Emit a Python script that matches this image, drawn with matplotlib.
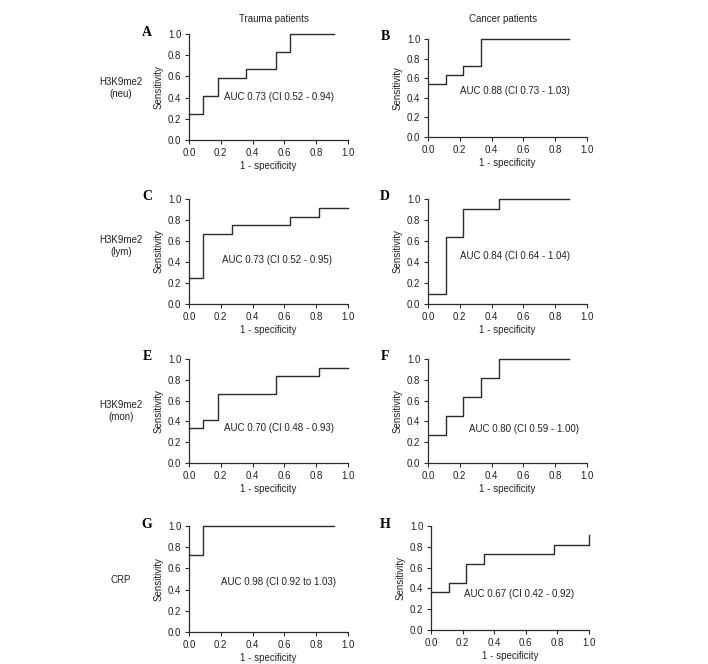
import matplotlib.pyplot as plt

plt.rcParams['font.family'] = ['Liberation Sans', 'DejaVu Sans']

W, H = 708, 664

# ROC step curves: false positive rate (1 - specificity) and sensitivity
a_x = [0.0, 0.09, 0.18, 0.36, 0.545, 0.636, 0.91]
a_y = [0.25, 0.417, 0.583, 0.667, 0.833, 1.0, 1.0]
b_x = [0.0, 0.111, 0.222, 0.333, 0.889]
b_y = [0.545, 0.636, 0.727, 1.0, 1.0]
c_x = [0.0, 0.09, 0.273, 0.636, 0.818, 1.0]
c_y = [0.25, 0.667, 0.75, 0.833, 0.917, 0.917]
d_x = [0.0, 0.111, 0.222, 0.444, 0.889]
d_y = [0.091, 0.636, 0.909, 1.0, 1.0]
e_x = [0.0, 0.09, 0.18, 0.545, 0.818, 1.0]
e_y = [0.333, 0.417, 0.667, 0.833, 0.917, 0.917]
f_x = [0.0, 0.111, 0.222, 0.333, 0.444, 0.889]
f_y = [0.273, 0.455, 0.636, 0.818, 1.0, 1.0]
g_x = [0.0, 0.09, 0.91]
g_y = [0.727, 1.0, 1.0]
h_x = [0.0, 0.111, 0.222, 0.333, 0.778, 1.0]
h_y = [0.364, 0.455, 0.636, 0.727, 0.818, 0.909]

auc_labels = ['AUC 0.73 (CI 0.52 - 0.94)', 'AUC 0.88 (CI 0.73 - 1.03)',
              'AUC 0.73 (CI 0.52 - 0.95)', 'AUC 0.84 (CI 0.64 - 1.04)',
              'AUC 0.70 (CI 0.48 - 0.93)', 'AUC 0.80 (CI 0.59 - 1.00)',
              'AUC 0.98 (CI 0.92 to 1.03)', 'AUC 0.67 (CI 0.42 - 0.92)']
letters = ['A', 'B', 'C', 'D', 'E', 'F', 'G', 'H']
row_labels = ['H3K9me2\n(neu)', 'H3K9me2\n(lym)', 'H3K9me2\n(mon)', 'CRP']
col_titles = ['Trauma patients', 'Cancer patients']
ticks = [0.0, 0.2, 0.4, 0.6, 0.8, 1.0]

curves = [(a_x, a_y), (b_x, b_y), (c_x, c_y), (d_x, d_y),
          (e_x, e_y), (f_x, f_y), (g_x, g_y), (h_x, h_y)]

# axes boxes in pixels: left, right, top, bottom
boxes = [(189, 348, 34, 140), (428, 587, 39, 137),
         (189, 348, 199, 304), (428, 587, 199, 304),
         (189, 348, 359, 463), (428, 587, 359, 463),
         (189, 348, 526, 632), (431, 589, 526, 630)]
# AUC text position in data coords
text_pos = [(0.22, 0.41), (0.20, 0.47), (0.21, 0.42), (0.20, 0.46),
            (0.22, 0.34), (0.26, 0.33), (0.20, 0.47), (0.21, 0.35)]
row_label_y = [88, 246, 411, 580]

col = '#2b2b2b'
txt = '#222222'
fs = 7
fig = plt.figure(figsize=(W / 100, H / 100), dpi=100)

for i, ((xs, ys), (l, r, t, b)) in enumerate(zip(curves, boxes)):
    ax = fig.add_axes([l / W, 1 - b / H, (r - l) / W, (b - t) / H])
    ax.step(xs, ys, where='post', color=col, lw=1.0, clip_on=False)
    ax.set_xlim(0, 1)
    ax.set_ylim(0, 1)
    ax.set_xticks(ticks)
    ax.set_yticks(ticks)
    ax.set_xticklabels([f'{v:.1f}' for v in ticks])
    ax.set_yticklabels([f'{v:.1f}' for v in ticks])
    for s in ['top', 'right']:
        ax.spines[s].set_visible(False)
    for s in ['left', 'bottom']:
        ax.spines[s].set_color(col)
        ax.spines[s].set_linewidth(0.9)
    ax.tick_params(direction='out', length=3, width=0.8, color=col,
                   labelsize=fs, pad=2.5, labelcolor=txt)
    ax.set_xlabel('1 - specificity', fontsize=fs, labelpad=2.5, color=txt)
    ax.set_ylabel('Sensitivity', fontsize=fs, labelpad=3, color=txt)
    tx, ty = text_pos[i]
    ax.text(tx, ty, auc_labels[i], fontsize=fs, va='center', ha='left',
            color=txt)
    fig.text((147 if i % 2 == 0 else 385) / W, 1 - (t - 2) / H, letters[i],
             family='Liberation Serif', fontweight='bold', fontsize=10,
             ha='center', va='center')
    if i % 2 == 0:
        fig.text(121 / W, 1 - row_label_y[i // 2] / H, row_labels[i // 2],
                 fontsize=fs, ha='center', va='center', linespacing=1.3,
                 color=txt)

fig.text(274 / W, 1 - 19 / H, col_titles[0], fontsize=fs, ha='center',
         va='center', color=txt)
fig.text(503 / W, 1 - 19 / H, col_titles[1], fontsize=fs, ha='center',
         va='center', color=txt)

fig.savefig('out.png', dpi=100)
